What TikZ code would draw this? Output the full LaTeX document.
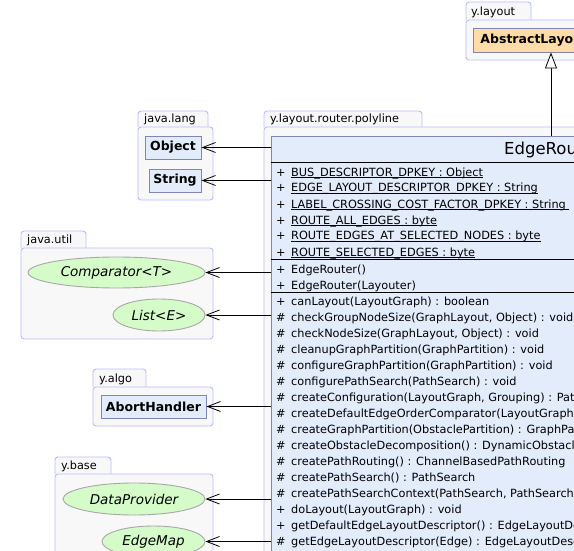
\documentclass[tikz,border=0pt]{standalone}
\usepackage{fontspec}
\setmainfont{DejaVu Sans}
\usetikzlibrary{arrows.meta,positioning,shapes.geometric}

\definecolor{pkgfill}{HTML}{F8F8F8}
\definecolor{pkgline}{HTML}{B4BEFF}
\definecolor{clsfill}{HTML}{E3ECFB}
\definecolor{clsline}{HTML}{7F86B5}
\definecolor{ifcfill}{HTML}{D5FBC9}
\definecolor{ifcline}{HTML}{A8A8A8}
\definecolor{absfill}{HTML}{FFDBA8}

% static members are underlined at a fixed depth
\newsavebox\membox
\newcommand\staticmember[1]{\sbox\membox{#1}\rlap{\rule[-2pt]{\wd\membox}{0.8pt}}\usebox\membox}

\begin{document}
\begin{tikzpicture}[x=1pt, y=-1pt, font=\fontsize{11.3}{16}\selectfont,
    pkg/.style={draw=pkgline, fill=pkgfill, rounded corners=3pt, line width=0.9pt},
    pkgname/.style={anchor=base west, inner sep=0pt, font=\fontsize{11.3}{13}\selectfont},
    cls/.style={draw=clsline, fill=clsfill, line width=0.9pt, inner sep=0pt,
      minimum height=23, font=\fontsize{12.5}{14}\selectfont\bfseries},
    ifc/.style={ellipse, draw=ifcline, fill=ifcfill, line width=0.9pt, inner sep=0pt,
      font=\fontsize{13.5}{15}\selectfont\itshape},
    member/.style={anchor=base west, inner sep=0pt},
    dep/.style={-{Straight Barb[length=13pt,width=10pt]}, line width=0.8pt},
    inh/.style={-{Triangle[length=16pt,width=12pt,fill=white]}, line width=0.8pt}]
  \path[use as bounding box, clip] (0,0) rectangle (574,551);

  % packages
  \draw[pkg] (466,20) -- (466,2) -- (531,2) -- (531,20);
  \draw[pkg] (466,20) rectangle (640,60);
  \node[pkgname] at (471,15.5) {y.layout};

  \draw[pkg] (138,127) -- (138,111) -- (208,111) -- (208,127);
  \draw[pkg] (138,127) rectangle (213,200);
  \node[pkgname] at (144,122.5) {java.lang};

  \draw[pkg] (264,127) -- (264,111) -- (422,111) -- (422,127);
  \draw[pkg] (264,127) rectangle (900,620);
  \node[pkgname] at (270,122.5) {y.layout.router.polyline};

  \draw[pkg] (21,248) -- (21,231) -- (86,231) -- (86,248);
  \draw[pkg] (21,248) rectangle (213,339);
  \node[pkgname] at (27,243.5) {java.util};

  \draw[pkg] (93,387) -- (93,369) -- (146,369) -- (146,387);
  \draw[pkg] (93,387) rectangle (213,426);
  \node[pkgname] at (99,382.5) {y.algo};

  \draw[pkg] (55,474) -- (55,457) -- (111,457) -- (111,474);
  \draw[pkg] (55,474) rectangle (213,620);
  \node[pkgname] at (61,469.5) {y.base};

  % classes and interfaces
  \node[cls, fill=absfill, anchor=west, minimum height=24, inner xsep=7pt, name=al] at (473,40) {AbstractLayouter};
  \node[cls, minimum width=56, name=obj] at (173,147.5) {Object};
  \node[cls, minimum width=52, name=str] at (175,180.5) {String};
  \node[ifc, minimum width=177, minimum height=31, name=cmp] at (116.5,272.5) {Comparator<T>};
  \node[ifc, minimum width=92, minimum height=32, name=lst] at (159,315) {List<E>};
  \node[cls, minimum width=105, name=abh] at (153.5,406.5) {AbortHandler};
  \node[ifc, minimum width=142, minimum height=32, name=dp] at (134,499) {DataProvider};
  \node[ifc, minimum width=103, minimum height=31, name=em] at (153.5,541.5) {EdgeMap};

  % EdgeRouter
  \node[cls, anchor=north west, minimum width=590, minimum height=470, name=er] at (271,136) {};
  \node[anchor=west, inner sep=0pt, font=\fontsize{16.5}{18}\selectfont, name=ername] at (504,149.5) {EdgeRouter};
  \foreach \y in {162,259,292.5}
    \draw[line width=0.9pt] (er.west |- 0,\y) -- (er.east |- 0,\y);

  \foreach \txt [count=\i from 0] in {BUS\_DESCRIPTOR\_DPKEY : Object,
      EDGE\_LAYOUT\_DESCRIPTOR\_DPKEY : String,
      LABEL\_CROSSING\_COST\_FACTOR\_DPKEY : String\ ,
      ROUTE\_ALL\_EDGES : byte,
      ROUTE\_EDGES\_AT\_SELECTED\_NODES : byte,
      ROUTE\_SELECTED\_EDGES : byte}
    \node[member, name=fld\i] at (276,{176+16*\i}) {\makebox[15pt][l]{+}\staticmember{\txt}};

  \foreach \txt [count=\i from 0] in {EdgeRouter(), EdgeRouter(Layouter)}
    \node[member, name=ctor\i] at (276,{273+16*\i}) {\makebox[15pt][l]{+}\txt};

  \foreach \vis/\txt [count=\i from 0] in {+/canLayout(LayoutGraph) : boolean,
      \#/{checkGroupNodeSize(GraphLayout, Object) : void},
      \#/{checkNodeSize(GraphLayout, Object) : void},
      \#/cleanupGraphPartition(GraphPartition) : void,
      \#/configureGraphPartition(GraphPartition) : void,
      \#/configurePathSearch(PathSearch) : void,
      \#/{createConfiguration(LayoutGraph, Grouping) : PathSearchConfiguration},
      \#/{createDefaultEdgeOrderComparator(LayoutGraph, PathSearchConfiguration) : Comparator},
      \#/createGraphPartition(ObstaclePartition) : GraphPartition,
      \#/createObstacleDecomposition() : DynamicObstacleDecomposition,
      \#/createPathRouting() : ChannelBasedPathRouting,
      \#/createPathSearch() : PathSearch,
      \#/{createPathSearchContext(PathSearch, PathSearchConfiguration) : PathSearchContext},
      +/doLayout(LayoutGraph) : void,
      +/getDefaultEdgeLayoutDescriptor() : EdgeLayoutDescriptor,
      \#/getEdgeLayoutDescriptor(Edge) : EdgeLayoutDescriptor}
    \node[member, name=mth\i] at (276,{305.5+16*\i}) {\makebox[15pt][l]{\vis}\txt};

  % connectors
  \coordinate (ertop) at (551,136);
  \draw[inh] (ertop) -- (ertop |- al.south);
  \foreach \t in {obj,str,cmp,lst,abh,dp,em}
    \draw[dep] (er.west |- \t.east) -- (\t.east);
\end{tikzpicture}
\end{document}
